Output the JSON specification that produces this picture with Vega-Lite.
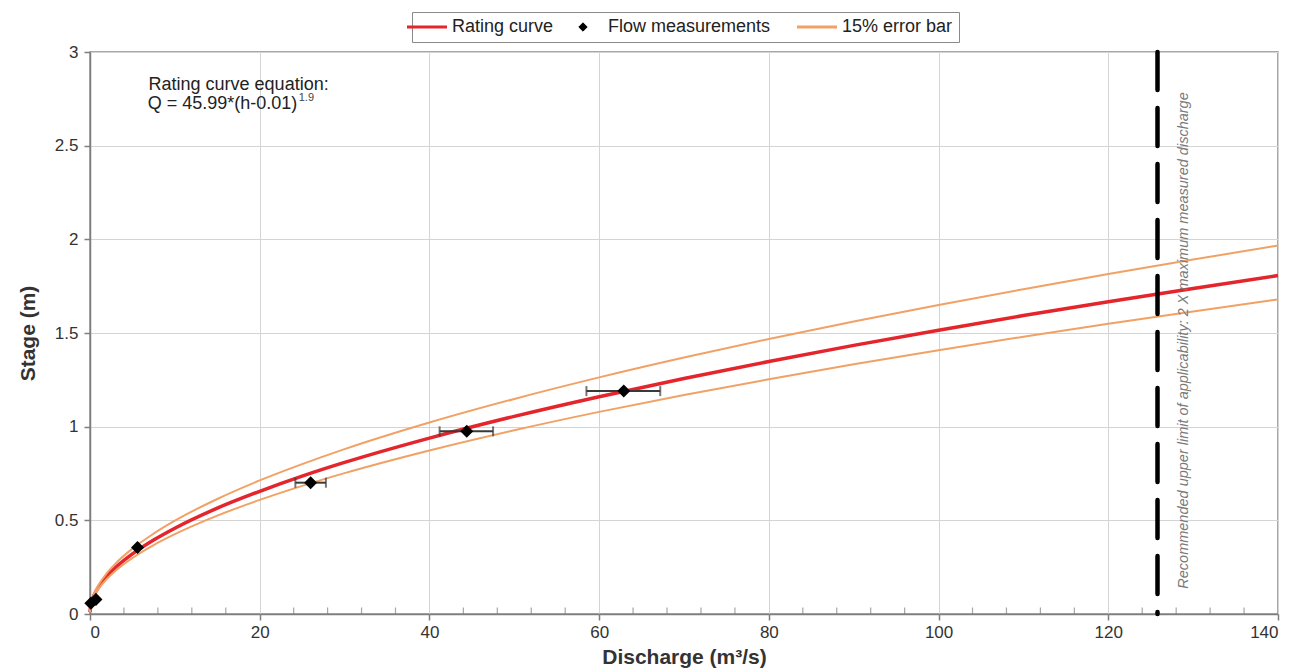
{
  "$schema": "https://vega.github.io/schema/vega-lite/v6.json",
  "width": 1188,
  "height": 562,
  "autosize": {"type": "none"},
  "padding": {"left": 90, "top": 52, "right": 16, "bottom": 57},
  "background": "white",
  "config": {
    "font": "Liberation Sans",
    "view": {"stroke": "#8c8c8c", "strokeWidth": 1.5},
    "axis": {
      "labelFont": "Liberation Sans",
      "labelFontSize": 17,
      "labelColor": "#333333",
      "titleFont": "Liberation Sans",
      "titleFontSize": 21,
      "titleFontWeight": "bold",
      "titleColor": "#333333",
      "domainColor": "#7f7f7f",
      "domainWidth": 1.5,
      "tickColor": "#7f7f7f",
      "tickWidth": 1.5,
      "gridColor": "#d4d4d4",
      "gridWidth": 1
    }
  },
  "datasets": {
    "curves": [
      {"Q": 0, "h": 0.01, "series": "Rating curve", "line": "rc"},
      {"Q": 0.1, "h": 0.05, "series": "Rating curve", "line": "rc"},
      {"Q": 0.25, "h": 0.074, "series": "Rating curve", "line": "rc"},
      {"Q": 0.5, "h": 0.103, "series": "Rating curve", "line": "rc"},
      {"Q": 1, "h": 0.143, "series": "Rating curve", "line": "rc"},
      {"Q": 2, "h": 0.202, "series": "Rating curve", "line": "rc"},
      {"Q": 3, "h": 0.248, "series": "Rating curve", "line": "rc"},
      {"Q": 5, "h": 0.321, "series": "Rating curve", "line": "rc"},
      {"Q": 7.5, "h": 0.395, "series": "Rating curve", "line": "rc"},
      {"Q": 10, "h": 0.458, "series": "Rating curve", "line": "rc"},
      {"Q": 15, "h": 0.565, "series": "Rating curve", "line": "rc"},
      {"Q": 20, "h": 0.655, "series": "Rating curve", "line": "rc"},
      {"Q": 25, "h": 0.736, "series": "Rating curve", "line": "rc"},
      {"Q": 30, "h": 0.809, "series": "Rating curve", "line": "rc"},
      {"Q": 40, "h": 0.939, "series": "Rating curve", "line": "rc"},
      {"Q": 50, "h": 1.055, "series": "Rating curve", "line": "rc"},
      {"Q": 60, "h": 1.16, "series": "Rating curve", "line": "rc"},
      {"Q": 70, "h": 1.257, "series": "Rating curve", "line": "rc"},
      {"Q": 80, "h": 1.348, "series": "Rating curve", "line": "rc"},
      {"Q": 90, "h": 1.434, "series": "Rating curve", "line": "rc"},
      {"Q": 100, "h": 1.515, "series": "Rating curve", "line": "rc"},
      {"Q": 110, "h": 1.593, "series": "Rating curve", "line": "rc"},
      {"Q": 120, "h": 1.667, "series": "Rating curve", "line": "rc"},
      {"Q": 130, "h": 1.738, "series": "Rating curve", "line": "rc"},
      {"Q": 140, "h": 1.807, "series": "Rating curve", "line": "rc"},
      {"Q": 0, "h": 0.01, "series": "15% error bar", "line": "up"},
      {"Q": 0.1, "h": 0.053, "series": "15% error bar", "line": "up"},
      {"Q": 0.25, "h": 0.08, "series": "15% error bar", "line": "up"},
      {"Q": 0.5, "h": 0.111, "series": "15% error bar", "line": "up"},
      {"Q": 1, "h": 0.155, "series": "15% error bar", "line": "up"},
      {"Q": 2, "h": 0.219, "series": "15% error bar", "line": "up"},
      {"Q": 3, "h": 0.269, "series": "15% error bar", "line": "up"},
      {"Q": 5, "h": 0.349, "series": "15% error bar", "line": "up"},
      {"Q": 7.5, "h": 0.429, "series": "15% error bar", "line": "up"},
      {"Q": 10, "h": 0.498, "series": "15% error bar", "line": "up"},
      {"Q": 15, "h": 0.614, "series": "15% error bar", "line": "up"},
      {"Q": 20, "h": 0.713, "series": "15% error bar", "line": "up"},
      {"Q": 25, "h": 0.8, "series": "15% error bar", "line": "up"},
      {"Q": 30, "h": 0.88, "series": "15% error bar", "line": "up"},
      {"Q": 40, "h": 1.022, "series": "15% error bar", "line": "up"},
      {"Q": 50, "h": 1.148, "series": "15% error bar", "line": "up"},
      {"Q": 60, "h": 1.263, "series": "15% error bar", "line": "up"},
      {"Q": 70, "h": 1.369, "series": "15% error bar", "line": "up"},
      {"Q": 80, "h": 1.468, "series": "15% error bar", "line": "up"},
      {"Q": 90, "h": 1.561, "series": "15% error bar", "line": "up"},
      {"Q": 100, "h": 1.649, "series": "15% error bar", "line": "up"},
      {"Q": 110, "h": 1.734, "series": "15% error bar", "line": "up"},
      {"Q": 120, "h": 1.815, "series": "15% error bar", "line": "up"},
      {"Q": 130, "h": 1.892, "series": "15% error bar", "line": "up"},
      {"Q": 140, "h": 1.967, "series": "15% error bar", "line": "up"},
      {"Q": 0, "h": 0.01, "series": "15% error bar", "line": "lo"},
      {"Q": 0.1, "h": 0.047, "series": "15% error bar", "line": "lo"},
      {"Q": 0.25, "h": 0.07, "series": "15% error bar", "line": "lo"},
      {"Q": 0.5, "h": 0.096, "series": "15% error bar", "line": "lo"},
      {"Q": 1, "h": 0.134, "series": "15% error bar", "line": "lo"},
      {"Q": 2, "h": 0.188, "series": "15% error bar", "line": "lo"},
      {"Q": 3, "h": 0.231, "series": "15% error bar", "line": "lo"},
      {"Q": 5, "h": 0.299, "series": "15% error bar", "line": "lo"},
      {"Q": 7.5, "h": 0.368, "series": "15% error bar", "line": "lo"},
      {"Q": 10, "h": 0.426, "series": "15% error bar", "line": "lo"},
      {"Q": 15, "h": 0.525, "series": "15% error bar", "line": "lo"},
      {"Q": 20, "h": 0.609, "series": "15% error bar", "line": "lo"},
      {"Q": 25, "h": 0.684, "series": "15% error bar", "line": "lo"},
      {"Q": 30, "h": 0.752, "series": "15% error bar", "line": "lo"},
      {"Q": 40, "h": 0.873, "series": "15% error bar", "line": "lo"},
      {"Q": 50, "h": 0.981, "series": "15% error bar", "line": "lo"},
      {"Q": 60, "h": 1.079, "series": "15% error bar", "line": "lo"},
      {"Q": 70, "h": 1.169, "series": "15% error bar", "line": "lo"},
      {"Q": 80, "h": 1.253, "series": "15% error bar", "line": "lo"},
      {"Q": 90, "h": 1.333, "series": "15% error bar", "line": "lo"},
      {"Q": 100, "h": 1.408, "series": "15% error bar", "line": "lo"},
      {"Q": 110, "h": 1.48, "series": "15% error bar", "line": "lo"},
      {"Q": 120, "h": 1.549, "series": "15% error bar", "line": "lo"},
      {"Q": 130, "h": 1.615, "series": "15% error bar", "line": "lo"},
      {"Q": 140, "h": 1.679, "series": "15% error bar", "line": "lo"}
    ],
    "measurements": [
      {"Q": 0.1, "h": 0.057, "lo": 0.1, "hi": 0.1},
      {"Q": 0.7, "h": 0.078, "lo": 0.7, "hi": 0.7},
      {"Q": 5.6, "h": 0.355, "lo": 5.6, "hi": 5.6},
      {"Q": 26.0, "h": 0.701, "lo": 24.2, "hi": 27.8},
      {"Q": 44.4, "h": 0.975, "lo": 41.2, "hi": 47.5},
      {"Q": 62.9, "h": 1.19, "lo": 58.5, "hi": 67.2}
    ],
    "minorTicks": [
      {"Q": 4}, {"Q": 8}, {"Q": 12}, {"Q": 16}, {"Q": 24}, {"Q": 28}, {"Q": 32}, {"Q": 36},
      {"Q": 44}, {"Q": 48}, {"Q": 52}, {"Q": 56}, {"Q": 64}, {"Q": 68}, {"Q": 72}, {"Q": 76},
      {"Q": 84}, {"Q": 88}, {"Q": 92}, {"Q": 96}, {"Q": 104}, {"Q": 108}, {"Q": 112}, {"Q": 116},
      {"Q": 124}, {"Q": 128}, {"Q": 132}, {"Q": 136}
    ],
    "limit": [{"Q": 125.8}],
    "eqLines": [
      {"Q": 6.9, "h": 2.826, "label": "Rating curve equation:"},
      {"Q": 6.8, "h": 2.72, "label": "Q = 45.99*(h-0.01)"}
    ],
    "eqSup": [{"Q": 24.6, "h": 2.752, "label": "1.9"}],
    "note": [{"Q": 128.9, "h": 1.46, "label": "Recommended upper  limit of applicability: 2 X maximum measured discharge"}]
  },
  "layer": [
    {
      "data": {"name": "curves"},
      "mark": {"type": "line", "interpolate": "monotone"},
      "encoding": {
        "x": {
          "field": "Q", "type": "quantitative",
          "scale": {"domain": [0, 140], "nice": false, "zero": false},
          "axis": {
            "title": "Discharge (m³/s)",
            "values": [0, 20, 40, 60, 80, 100, 120, 140],
            "format": "d",
            "grid": true,
            "tickSize": 6,
            "labelPadding": 4,
            "titlePadding": 6
          }
        },
        "y": {
          "field": "h", "type": "quantitative",
          "scale": {"domain": [0, 3], "nice": false},
          "axis": {
            "title": "Stage (m)",
            "values": [0, 0.5, 1, 1.5, 2, 2.5, 3],
            "format": "~g",
            "grid": true,
            "tickSize": 6,
            "labelPadding": 6,
            "titlePadding": 16
          }
        },
        "detail": {"field": "line", "type": "nominal"},
        "color": {
          "field": "series", "type": "nominal",
          "scale": {
            "domain": ["Rating curve", "Flow measurements", "15% error bar"],
            "range": ["#e4252c", "#000000", "#f2a165"]
          },
          "legend": {
            "title": null,
            "orient": "none",
            "legendX": 322,
            "legendY": -40,
            "direction": "horizontal",
            "strokeColor": "#8a8a8a",
            "fillColor": "white",
            "padding": 6,
            "columnPadding": 20,
            "labelFont": "Liberation Sans",
            "labelFontSize": 18,
            "labelColor": "#222222",
            "labelOffset": 16,
            "labelLimit": 400,
            "symbolSize": 1600,
            "symbolType": "stroke",
            "symbolStrokeWidth": 3,
            "encode": {
              "symbols": {
                "update": {
                  "shape": {"signal": "datum.value === 'Flow measurements' ? 'diamond' : 'stroke'"},
                  "size": {"signal": "datum.value === 'Flow measurements' ? 70 : 1600"},
                  "fill": {"signal": "datum.value === 'Flow measurements' ? '#000000' : 'transparent'"},
                  "stroke": {"scale": "color", "field": "value"},
                  "strokeWidth": {"signal": "datum.value === 'Flow measurements' ? 1 : 3"},
                  "opacity": {"value": 1}
                }
              }
            }
          }
        },
        "strokeWidth": {
          "field": "series", "type": "nominal",
          "scale": {"domain": ["Rating curve", "15% error bar"], "range": [3.5, 2]},
          "legend": null
        }
      }
    },
    {
      "data": {"name": "minorTicks"},
      "mark": {"type": "tick", "orient": "vertical", "color": "#7f7f7f", "thickness": 1.2, "size": 7, "yOffset": -3},
      "encoding": {
        "x": {"field": "Q", "type": "quantitative", "title": "Discharge (m³/s)"},
        "y": {"datum": 0, "type": "quantitative"}
      }
    },
    {
      "data": {"name": "measurements"},
      "mark": {"type": "errorbar", "ticks": {"size": 10, "thickness": 2, "color": "#3a3a3a"}, "color": "#3a3a3a", "thickness": 2},
      "encoding": {
        "x": {"field": "lo", "type": "quantitative", "title": "Discharge (m³/s)"},
        "x2": {"field": "hi"},
        "y": {"field": "h", "type": "quantitative", "title": "Stage (m)"}
      }
    },
    {
      "data": {"name": "measurements"},
      "mark": {"type": "point", "shape": "diamond", "filled": true, "color": "#000000", "size": 170, "opacity": 1},
      "encoding": {
        "x": {"field": "Q", "type": "quantitative"},
        "y": {"field": "h", "type": "quantitative"}
      }
    },
    {
      "data": {"name": "limit"},
      "mark": {"type": "rule", "color": "#000000", "strokeWidth": 4.5, "strokeDash": [38, 18], "strokeCap": "round"},
      "encoding": {
        "x": {"field": "Q", "type": "quantitative"}
      }
    },
    {
      "data": {"name": "note"},
      "mark": {"type": "text", "angle": 270, "align": "center", "baseline": "middle", "fontSize": 14.5, "fontStyle": "italic", "color": "#7a7a7a", "font": "Liberation Sans"},
      "encoding": {
        "x": {"field": "Q", "type": "quantitative"},
        "y": {"field": "h", "type": "quantitative"},
        "text": {"field": "label"}
      }
    },
    {
      "data": {"name": "eqLines"},
      "mark": {"type": "text", "align": "left", "baseline": "middle", "fontSize": 18, "color": "#222222", "font": "Liberation Sans"},
      "encoding": {
        "x": {"field": "Q", "type": "quantitative"},
        "y": {"field": "h", "type": "quantitative"},
        "text": {"field": "label"}
      }
    },
    {
      "data": {"name": "eqSup"},
      "mark": {"type": "text", "align": "left", "baseline": "middle", "fontSize": 11, "color": "#444444", "font": "Liberation Sans"},
      "encoding": {
        "x": {"field": "Q", "type": "quantitative"},
        "y": {"field": "h", "type": "quantitative"},
        "text": {"field": "label"}
      }
    }
  ]
}
